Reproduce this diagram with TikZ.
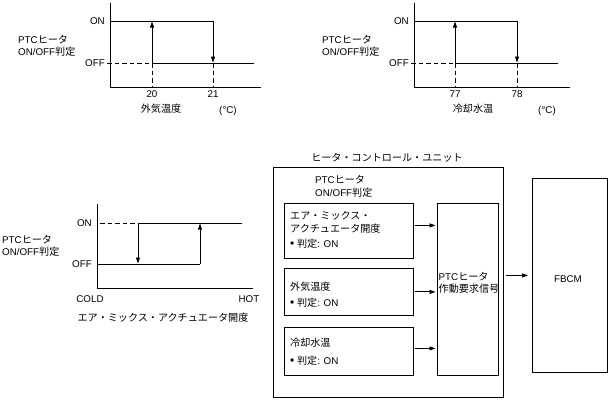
\documentclass[tikz,border=0pt]{standalone}
\usepackage{fontspec}
\setmainfont{Liberation Sans}
\newfontfamily\jp[Scale=1.03]{Noto Sans CJK JP}
\usetikzlibrary{arrows.meta,positioning}
\newcommand\judgeon{{\large\textbullet}\ {\jp 判定}: ON}
\tikzset{
  lbl/.style={inner sep=0pt,font=\fontsize{9.8}{12.5}\selectfont},
  lbll/.style={lbl,anchor=west,align=left},
  axis/.style={line width=0.9pt},
  level/.style={line width=0.9pt},
  guide/.style={line width=0.9pt,dash pattern=on 4.5pt off 3pt},
  jump/.style={line width=0.9pt,-{Triangle[length=6pt,width=4pt]}},
  frame/.style={draw,line width=0.8pt,inner sep=0pt,anchor=north west},
  flow/.style={line width=0.9pt,-{Triangle[length=6pt,width=4pt]},
               shorten <=1pt,shorten >=1.5pt}
}
\begin{document}
\begin{tikzpicture}[x=1pt,y=-1pt]
  \useasboundingbox (0,0) rectangle (611,400);

  % outside air temperature
  \node[lbll] (ptcA) at (18,46) {PTC{\jp ヒータ}\\ON/OFF{\jp 判定}};
  \draw[axis] (110.5,3) -- (110.5,87) -- (261,87);
  \node[lbl,anchor=east] (onA) at (105,21) {ON};
  \node[lbl,anchor=east] (offA) at (105,63) {OFF};
  \draw[level] (110.5,21) -- (213,21);
  \draw[level] (152,63) -- (254,63);
  \draw[guide] (offA.east) ++(2,0) -- (152,63);
  \draw[guide] (152,63) -- (152,87);
  \draw[guide] (213,63) -- (213,87);
  \draw[jump] (213,21) -- (213,62.5);
  \draw[jump] (152,63) -- (152,21.5);
  \node[lbl] (tA1) at (152,94) {20};
  \node[lbl] (tA2) at (213,94) {21};
  \node[lbl] (nameA) at (161,109) {\jp 外気温度};
  \node[lbl] (unitA) at (228,111) {(°C)};

  % coolant temperature
  \node[lbll] (ptcB) at (322,46) {PTC{\jp ヒータ}\\ON/OFF{\jp 判定}};
  \draw[axis] (414.5,3) -- (414.5,87) -- (570,87);
  \node[lbl,anchor=east] (onB) at (409,21) {ON};
  \node[lbl,anchor=east] (offB) at (409,63) {OFF};
  \draw[level] (414.5,21) -- (517,21);
  \draw[level] (455,63) -- (558,63);
  \draw[guide] (offB.east) ++(2,0) -- (455,63);
  \draw[guide] (455,63) -- (455,87);
  \draw[guide] (517,63) -- (517,87);
  \draw[jump] (517,21) -- (517,62.5);
  \draw[jump] (455,63) -- (455,21.5);
  \node[lbl] (tB1) at (455,94) {77};
  \node[lbl] (tB2) at (517,94) {78};
  \node[lbl] (nameB) at (473,109) {\jp 冷却水温};
  \node[lbl] (unitB) at (547,111) {(°C)};

  % air mix actuator opening
  \node[lbll] (ptcC) at (2,246) {PTC{\jp ヒータ}\\ON/OFF{\jp 判定}};
  \draw[axis] (97,204) -- (97,288) -- (253,288);
  \node[lbl,anchor=east] (onC) at (92,223) {ON};
  \node[lbl,anchor=east] (offC) at (92,264) {OFF};
  \draw[guide] (onC.east) ++(8,0) -- (138,223);
  \draw[level] (138,223) -- (242,223);
  \draw[level] (97,264) -- (200,264);
  \draw[jump] (138,223) -- (138,263.5);
  \draw[jump] (200,264) -- (200,223.5);
  \node[lbl] (cold) at (90,299) {COLD};
  \node[lbl] (hot) at (249,299) {HOT};
  \node[lbl] (nameC) at (163,318) {\jp エア・ミックス・アクチュエータ開度};

  % heater control unit
  \node[frame,minimum width=230pt,minimum height=230pt] (unit) at (273,167) {};
  \node[lbl] (unittitle) at (387,158) {\jp ヒータ・コントロール・ユニット};
  \node[lbll] (judge) at (315,186.5) {PTC{\jp ヒータ}\\ON/OFF{\jp 判定}};

  \node[frame,minimum width=129pt,minimum height=55pt] (mix) at (284,203) {};
  \node[lbll] (mixname) at (290,222.5) {\jp エア・ミックス・\\\jp アクチュエータ開度};
  \node[lbll] (mixon) at (290,244) {\judgeon};

  \node[frame,minimum width=129pt,minimum height=47pt] (amb) at (284,268) {};
  \node[lbll] (ambname) at (290,287) {\jp 外気温度};
  \node[lbll] (ambon) at (290,303) {\judgeon};

  \node[frame,minimum width=129pt,minimum height=48pt] (cool) at (284,327) {};
  \node[lbll] (coolname) at (290,343) {\jp 冷却水温};
  \node[lbll] (coolon) at (290,361) {\judgeon};

  \node[frame,minimum width=61pt,minimum height=172pt] (req) at (437,203) {};
  \node[lbll] (reqtext) at (438.5,283) {PTC{\jp ヒータ}\\\jp 作動要求信号};

  \node[frame,minimum width=75pt,minimum height=194pt] (fbcm) at (532,178) {};
  \node[lbl] (fbcmtext) at (568,279) {FBCM};

  \coordinate (mixout) at ([yshift=5.5pt]mix.east);
  \coordinate (coolout) at ([yshift=3pt]cool.east);
  \draw[flow] (mixout) -- (mixout -| req.west);
  \draw[flow] (amb.east) -- (amb.east -| req.west);
  \draw[flow] (coolout) -- (coolout -| req.west);
  \draw[flow,shorten <=2pt,shorten >=4pt] (unit.east |- fbcm.west) -- (fbcm.west);
\end{tikzpicture}
\end{document}
